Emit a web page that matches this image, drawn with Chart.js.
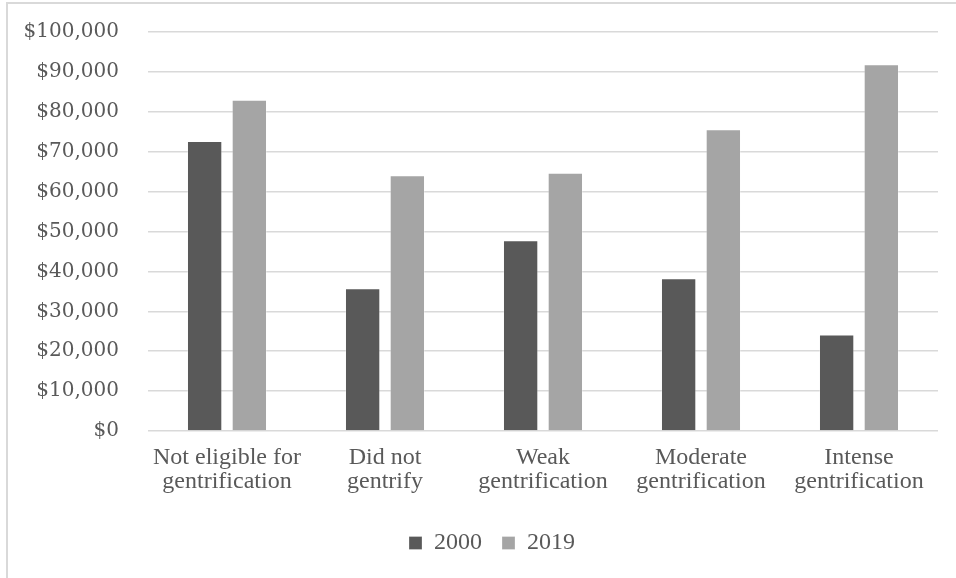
<!DOCTYPE html>
<html>
<head>
<meta charset="utf-8">
<script src="https://cdn.jsdelivr.net/npm/chart.js@4.4.1/dist/chart.umd.min.js"></script>
<style>
  html, body { margin: 0; padding: 0; background: #fff; overflow: hidden; width: 956px; height: 578px; }
  #frame { position: absolute; left: 6px; top: 2px; border-left: 2px solid #D9D9D9; border-top: 2px solid #D9D9D9; width: 966px; height: 600px; }
  canvas { display: block; }
</style>
</head>
<body>
<div id="frame"><canvas id="chart" width="966" height="600"></canvas></div>
<script>
// Median household income by neighborhood gentrification status
const categories = [
  ["Not eligible for", "gentrification"],
  ["Did not", "gentrify"],
  ["Weak", "gentrification"],
  ["Moderate", "gentrification"],
  ["Intense", "gentrification"]
];
const seriesNames = ["2000", "2019"];
const income2000 = [72700, 35800, 47800, 38300, 24200];
const income2019 = [83000, 64100, 64700, 75600, 91900];
const yTicks = { min: 0, max: 100000, step: 10000 };

const textColor = '#595959';

// Centre the legend under the whole frame rather than under the plot area
const legendOffset = {
  id: 'legendOffset',
  afterLayout(chart) {
    const lg = chart.legend;
    if (lg) { lg.left += 19; lg.right += 19; }
  }
};

new Chart(document.getElementById('chart'), {
  type: 'bar',
  data: {
    labels: categories,
    datasets: [
      {
        label: seriesNames[0],
        data: income2000,
        backgroundColor: '#595959',
        borderColor: 'rgba(255,255,255,0.28)',
        borderWidth: 1,
        categoryPercentage: 0.566,
        barPercentage: 0.79
      },
      {
        label: seriesNames[1],
        data: income2019,
        backgroundColor: '#A5A5A5',
        borderColor: 'rgba(255,255,255,0.28)',
        borderWidth: 1,
        categoryPercentage: 0.566,
        barPercentage: 0.79
      }
    ]
  },
  plugins: [legendOffset],
  options: {
    responsive: false,
    animation: false,
    layout: { autoPadding: false, padding: { left: 0, right: 36, top: 28, bottom: 39 } },
    plugins: {
      legend: {
        position: 'bottom',
        labels: {
          boxWidth: 13,
          boxHeight: 13,
          padding: 20,
          color: textColor,
          font: { family: 'Liberation Serif', size: 24 }
        }
      },
      tooltip: { enabled: false }
    },
    scales: {
      x: {
        grid: { display: false, drawTicks: false },
        border: { display: false },
        ticks: {
          color: textColor,
          font: { family: 'Liberation Serif', size: 24, lineHeight: 1.0 },
          padding: 15,
          maxRotation: 0,
          autoSkip: false
        },
        afterFit: scale => { scale.width = scale.width; scale.height = 80; }
      },
      y: {
        min: yTicks.min,
        max: yTicks.max,
        ticks: {
          stepSize: yTicks.step,
          color: textColor,
          font: { family: 'DejaVu Serif', size: 20 },
          padding: 3,
          callback: v => '$' + v.toLocaleString('en-US')
        },
        grid: {
          color: '#D9D9D9',
          lineWidth: 1.5,
          drawTicks: true,
          tickLength: 26,
          tickColor: 'rgba(0,0,0,0)'
        },
        border: { display: false },
        afterFit: scale => { scale.width = 140; }
      }
    }
  }
});
</script>
</body>
</html>
